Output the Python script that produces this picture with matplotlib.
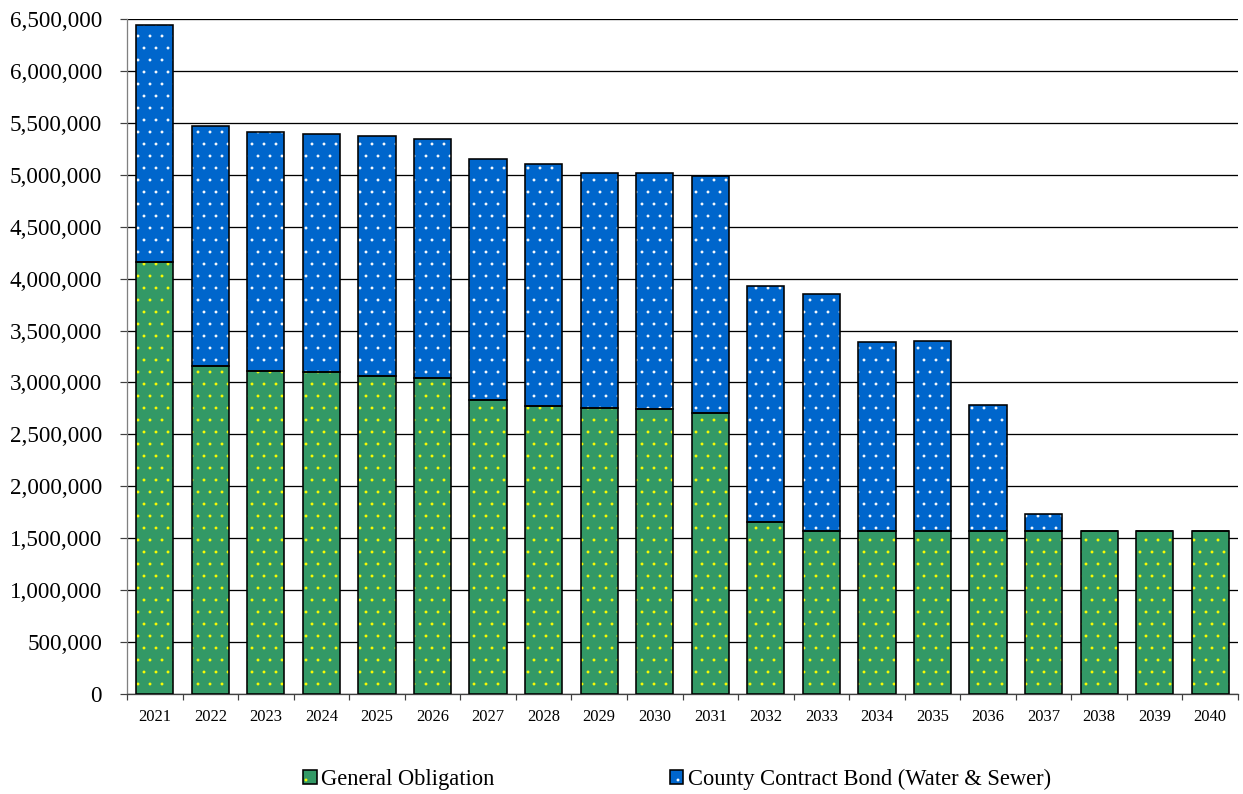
import matplotlib
matplotlib.use("Agg")
import matplotlib.pyplot as plt
from matplotlib.ticker import FuncFormatter, FixedLocator
from matplotlib.legend_handler import HandlerTuple
import numpy as np

# Annual debt service by fiscal year
years = ["2021", "2022", "2023", "2024", "2025", "2026", "2027", "2028", "2029", "2030",
         "2031", "2032", "2033", "2034", "2035", "2036", "2037", "2038", "2039", "2040"]
general_obligation = [4160000, 3160000, 3115000, 3096000, 3058000, 3045000, 2834000, 2769000,
                      2754000, 2747000, 2706000, 1661000, 1570000, 1570000, 1570000, 1570000,
                      1570000, 1570000, 1572000, 1570000]
total_debt_service = [6442000, 5467000, 5410000, 5390000, 5371000, 5349000, 5150000, 5099000,
                      5015000, 5019000, 4990000, 3926000, 3849000, 3387000, 3397000, 2782000,
                      1738000, 1570000, 1572000, 1570000]
county_contract = [t - g for t, g in zip(total_debt_service, general_obligation)]

series_names = ["General Obligation", "County Contract Bond (Water & Sewer)"]

GREEN = "#339966"
BLUE = "#0066CC"

plt.rcParams["font.family"] = ["Liberation Serif", "DejaVu Serif"]
plt.rcParams["hatch.linewidth"] = 0.35

DPI = 72
fig = plt.figure(figsize=(1243 / DPI, 794 / DPI), dpi=DPI)
ax = fig.add_axes([127 / 1243, 1 - 694 / 794, (1238 - 127) / 1243, (694 - 19) / 794])

x = np.arange(len(years))
w = 0.67

# filled, dotted bodies (dot colour carried by the edge colour), then black outlines
go_fill = ax.bar(x, general_obligation, w, color=GREEN, edgecolor="#FFFF00",
                 linewidth=0, hatch=".", zorder=2)
go_edge = ax.bar(x, general_obligation, w, fill=False, edgecolor="black",
                 linewidth=1.6, zorder=3)
cc_fill = ax.bar(x, county_contract, w, bottom=general_obligation, color=BLUE,
                 edgecolor="white", linewidth=0, hatch=".", zorder=2)
cc_edge = ax.bar(x, county_contract, w, bottom=general_obligation, fill=False,
                 edgecolor="black", linewidth=1.6, zorder=3)

ax.set_xlim(-0.5, len(years) - 0.5)
ax.set_ylim(0, 6500000)
ax.set_yticks(np.arange(0, 6500001, 500000))
ax.yaxis.set_major_formatter(FuncFormatter(lambda v, p: f"{v:,.0f}"))
ax.set_xticks(x)
ax.set_xticklabels(years)
ax.xaxis.set_minor_locator(FixedLocator(np.arange(-0.5, len(years), 1.0)))

ax.set_axisbelow(True)
ax.yaxis.grid(True, color="black", linewidth=1.3)
ax.xaxis.grid(False)

for s in ("top", "right"):
    ax.spines[s].set_visible(False)
ax.spines["left"].set_color("#808080")
ax.spines["left"].set_linewidth(1.3)
ax.spines["bottom"].set_color("#404040")
ax.spines["bottom"].set_linewidth(1.3)

ax.tick_params(axis="y", which="major", length=7, width=1.2, color="#404040",
               labelsize=23, pad=18)
ax.tick_params(axis="x", which="major", length=0, labelsize=16.5, pad=15)
ax.tick_params(axis="x", which="minor", length=6, width=1.2, color="#404040")

fig.legend([(go_fill, go_edge), (cc_fill, cc_edge)], series_names,
           handler_map={tuple: HandlerTuple(ndivide=1)},
           loc="center", bbox_to_anchor=(677 / 1243, 1 - 779 / 794), ncol=2,
           frameon=False, fontsize=22.5, handlelength=0.6, handleheight=0.6,
           handletextpad=0.2, columnspacing=7.8, borderpad=0)

fig.savefig("out.png", dpi=DPI)
